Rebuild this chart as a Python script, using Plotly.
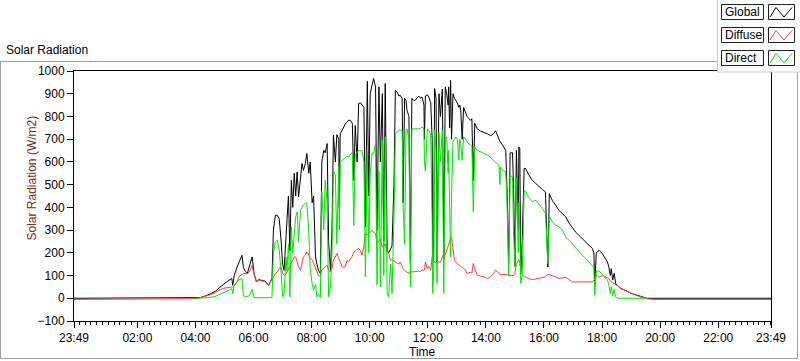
import plotly.graph_objects as go
from datetime import datetime, timedelta

# ---------------- data ----------------
times = ["23:49", "03:49", "03:55", "04:03", "04:10", "04:20", "04:30", "04:41", "04:51", "05:01",
         "05:10", "05:15", "05:17", "05:20", "05:26", "05:30", "05:36", "05:39", "05:43", "05:47",
         "05:51", "05:57", "06:01", "06:06", "06:10", "06:17", "06:24", "06:31", "06:38", "06:41",
         "06:45", "06:49", "06:53", "06:57", "07:00", "07:03", "07:07", "07:09", "07:12", "07:15",
         "07:18", "07:21", "07:24", "07:27", "07:30", "07:33", "07:37", "07:40", "07:43", "07:47",
         "07:50", "07:54", "07:57", "08:01", "08:04", "08:08", "08:11", "08:14", "08:18", "08:21",
         "08:25", "08:28", "08:32", "08:35", "08:39", "08:42", "08:45", "08:49", "08:52", "08:56",
         "08:57", "08:59", "09:03", "09:06", "09:10", "09:13", "09:16", "09:20", "09:24", "09:27",
         "09:30", "09:34", "09:37", "09:41", "09:44", "09:48", "09:51", "09:55", "09:58", "10:01",
         "10:05", "10:08", "10:12", "10:15", "10:19", "10:22", "10:26", "10:29", "10:32", "10:36",
         "10:39", "10:43", "10:46", "10:50", "10:53", "10:57", "11:00", "11:03", "11:07", "11:09",
         "11:12", "11:15", "11:17", "11:21", "11:24", "11:27", "11:31", "11:34", "11:38", "11:41",
         "11:45", "11:48", "11:52", "11:53", "11:55", "11:59", "12:02", "12:06", "12:09", "12:10",
         "12:12", "12:14", "12:17", "12:19", "12:23", "12:26", "12:30", "12:33", "12:36", "12:39",
         "12:42", "12:43", "12:45", "12:47", "12:49", "12:52", "12:55", "12:58", "13:01", "13:04",
         "13:06", "13:08", "13:11", "13:14", "13:18", "13:21", "13:25", "13:28", "13:31", "13:34",
         "13:37", "13:42", "13:49", "13:56", "14:03", "14:10", "14:16", "14:20", "14:24", "14:27",
         "14:29", "14:30", "14:34", "14:37", "14:41", "14:44", "14:47", "14:50", "14:55", "14:57",
         "15:00", "15:03", "15:07", "15:08", "15:10", "15:12", "15:15", "15:19", "15:22", "15:28",
         "15:36", "15:43", "15:50", "15:57", "16:03", "16:08", "16:11", "16:17", "16:24", "16:31",
         "16:38", "16:45", "16:52", "16:59", "17:06", "17:12", "17:19", "17:26", "17:33", "17:40",
         "17:43", "17:45", "17:48", "17:54", "18:01", "18:08", "18:11", "18:14", "18:17", "18:19",
         "18:22", "18:25", "18:28", "18:32", "18:39", "18:45", "18:52", "18:59", "19:06", "19:14",
         "19:20", "19:26", "19:32", "19:45", "23:49"]

global_wm2 = [0, 0, 0, 0, 3, 10, 18, 31, 50, 67,
              80, 87, 57, 100, 138, 160, 189, 135, 118, 109,
              140, 182, 109, 72, 82, 79, 75, 57, 87, 300,
              365, 365, 350, 250, 150, 123, 250, 330, 450, 210,
              519, 400, 550, 450, 556, 446, 520, 593, 563, 593,
              637, 550, 600, 420, 450, 182, 150, 123, 110, 600,
              651, 640, 681, 250, 123, 300, 717, 600, 720, 700,
              400, 725, 740, 755, 768, 775, 783, 783, 770, 519,
              760, 600, 857, 860, 850, 840, 314, 955, 450, 900,
              940, 967, 930, 299, 930, 600, 900, 250, 945, 211,
              200, 220, 230, 500, 915, 905, 890, 893, 880, 420,
              880, 870, 827, 800, 160, 880, 870, 871, 880, 890,
              880, 886, 850, 700, 890, 895, 886, 860, 700, 167,
              180, 923, 880, 158, 900, 800, 920, 172, 930, 900,
              850, 930, 750, 959, 700, 900, 880, 870, 860, 840,
              850, 827, 700, 840, 820, 800, 790, 783, 790, 519,
              770, 746, 735, 730, 724, 715, 725, 737, 720, 700,
              690, 688, 675, 666, 651, 450, 153, 640, 640, 500,
              140, 651, 300, 666, 659, 110, 250, 571, 571, 545,
              519, 505, 490, 478, 468, 138, 460, 431, 410, 387,
              372, 358, 330, 307, 290, 277, 262, 248, 232, 219,
              200, 60, 200, 211, 195, 167, 160, 138, 100, 130,
              80, 110, 65, 57, 42, 38, 29, 22, 18, 12,
              8, 5, 0, 0, 0]

diffuse_wm2 = [-5, -5, -3, -2, 3, 8, 15, 25, 38, 45,
               50, 50, 48, 55, 75, 95, 105, 109, 109, 108,
               115, 145, 105, 72, 80, 77, 73, 57, 85, 100,
               109, 115, 130, 135, 110, 100, 105, 115, 130, 140,
               160, 175, 182, 182, 160, 138, 123, 150, 182, 190,
               204, 190, 175, 170, 153, 130, 109, 100, 94, 125,
               131, 140, 145, 123, 115, 130, 170, 182, 197, 180,
               175, 160, 138, 135, 140, 167, 160, 170, 185, 204,
               210, 215, 219, 210, 190, 230, 285, 280, 285, 290,
               299, 290, 285, 240, 250, 260, 226, 230, 240, 200,
               200, 167, 170, 165, 160, 155, 150, 160, 138, 130,
               123, 120, 115, 109, 120, 115, 118, 118, 118, 120,
               118, 125, 122, 125, 160, 130, 140, 123, 182, 170,
               165, 160, 155, 155, 160, 158, 182, 197, 190, 210,
               235, 240, 250, 263, 270, 220, 167, 160, 150, 145,
               145, 140, 135, 131, 125, 109, 112, 115, 112, 153,
               130, 101, 98, 95, 87, 95, 109, 125, 115, 110,
               108, 105, 105, 105, 106, 105, 100, 100, 97, 100,
               110, 150, 165, 170, 160, 110, 105, 94, 94, 87,
               82, 85, 88, 92, 94, 106, 104, 97, 94, 87,
               90, 92, 82, 72, 72, 72, 70, 69, 69, 72,
               80, 85, 101, 92, 101, 95, 90, 85, 75, 72,
               68, 65, 60, 55, 43, 37, 29, 22, 18, 10,
               6, 2, -2, -5, -5]

direct_wm2 = [None, None, 0, 0, 0, 2, 4, 8, 18, 26,
              35, 43, 20, 55, 72, 82, 87, 10, 8, 8,
              10, 40, 3, 2, 2, 2, 2, 2, 3, 200,
              250, 255, 215, 110, 6, 20, 182, 120, 240, 6,
              314, 200, 300, 358, 380, 250, 387, 400, 410, 417,
              420, 299, 130, 65, 35, 60, 6, 20, 3, 470,
              300, 519, 420, 6, 50, 200, 563, 540, 240, 578,
              300, 600, 607, 615, 622, 625, 620, 635, 640, 320,
              630, 640, 651, 648, 651, 600, 94, 640, 200, 550,
              640, 637, 681, 60, 560, 50, 695, 100, 710, 21,
              6, 150, 21, 350, 725, 730, 739, 739, 740, 402,
              240, 740, 745, 700, 50, 745, 746, 745, 746, 745,
              748, 754, 745, 600, 560, 745, 740, 720, 343, 21,
              100, 740, 650, 65, 730, 600, 740, 21, 700, 710,
              550, 651, 400, 182, 450, 690, 700, 710, 700, 607,
              700, 680, 607, 710, 700, 688, 680, 675, 670, 380,
              665, 651, 645, 637, 630, 619, 605, 598, 593, 585,
              500, 578, 563, 560, 556, 400, 100, 540, 534, 300,
              140, 530, 200, 420, 300, 65, 100, 475, 470, 445,
              425, 431, 415, 395, 373, 153, 360, 336, 322, 315,
              300, 270, 255, 240, 220, 204, 190, 175, 158, 140,
              135, 15, 120, 120, 105, 90, 80, 60, 20, 50,
              10, 40, 5, 0, 0, 0, 0, 0, 0, 0,
              0, 0, 0, None, None]

series_names = ["Global", "Diffuse", "Direct"]
series_colors = ["#000000", "#ff3b3b", "#00e600"]
series_values = [global_wm2, diffuse_wm2, direct_wm2]

x_tick_labels = ["23:49", "02:00", "04:00", "06:00", "08:00", "10:00", "12:00",
                 "14:00", "16:00", "18:00", "20:00", "22:00", "23:49"]
y_tick_values = list(range(-100, 1001, 100))

# ---------------- time parsing (day wraps after the first 23:49) ----------------
start_day = datetime(2024, 1, 1)


def parse_times(labels):
    out, day, prev = [], start_day, None
    for s in labels:
        h, m = map(int, s.split(":"))
        t = day + timedelta(hours=h, minutes=m)
        if prev is not None and t < prev:
            day += timedelta(days=1)
            t += timedelta(days=1)
        out.append(t)
        prev = t
    return out


tx = parse_times(times)
tick_dt = parse_times(x_tick_labels)

# ---------------- figure ----------------
W, H = 800, 361
PL, PR, PT, PB = 74, 771, 71, 321
FONT = "Liberation Sans, Arial, sans-serif"


def fx(p):
    return (p - PL) / (PR - PL)


def fy(p):
    return (PB - p) / (PB - PT)


fig = go.Figure()
for name, color, vals in zip(series_names, series_colors, series_values):
    fig.add_trace(go.Scatter(x=tx, y=vals, mode="lines", name=name,
                             line=dict(color=color, width=1), connectgaps=False,
                             hoverinfo="skip", showlegend=False))

fig.update_layout(
    width=W, height=H,
    margin=dict(l=PL, r=W - PR, t=PT, b=H - PB, pad=0),
    paper_bgcolor="white", plot_bgcolor="white",
    font=dict(family=FONT, size=12, color="#000000"),
    showlegend=False,
)

fig.update_xaxes(
    range=[tick_dt[0], tick_dt[-1]],
    tickmode="array", tickvals=tick_dt, ticktext=x_tick_labels,
    ticks="outside", ticklen=6, tickcolor="#000000", tickwidth=1,
    showline=True, linecolor="#000000", linewidth=1, mirror=True,
    showgrid=False, zeroline=False,
    tickfont=dict(family=FONT, size=12, color="#000000"),
    minor=dict(ticks="outside", ticklen=3, tickcolor="#000000", tickwidth=1,
               tickmode="linear", tick0=datetime(2024, 1, 2, 0, 0), dtick=12 * 60 * 1000,
               showgrid=False),
)
fig.update_yaxes(
    range=[-100, 1000],
    tickmode="array", tickvals=y_tick_values,
    ticks="outside", ticklen=6, tickcolor="#000000", tickwidth=1,
    showline=True, linecolor="#000000", linewidth=1, mirror=True,
    showgrid=False, zeroline=False,
    tickfont=dict(family=FONT, size=12, color="#000000"),
)

shapes, annos = [], []
FRAME = "#a0a0a0"
# outer frame of the chart
shapes.append(dict(type="line", xref="paper", yref="paper", x0=fx(0), x1=fx(717), y0=fy(61.5), y1=fy(61.5),
                   line=dict(color=FRAME, width=1), layer="above"))
shapes.append(dict(type="line", xref="paper", yref="paper", x0=fx(0.5), x1=fx(0.5), y0=fy(61.5), y1=fy(358.5),
                   line=dict(color=FRAME, width=1), layer="above"))
shapes.append(dict(type="line", xref="paper", yref="paper", x0=fx(0.5), x1=fx(797.5), y0=fy(358.5), y1=fy(358.5),
                   line=dict(color=FRAME, width=1), layer="above"))
shapes.append(dict(type="line", xref="paper", yref="paper", x0=fx(797.5), x1=fx(797.5), y0=fy(72), y1=fy(358.5),
                   line=dict(color=FRAME, width=1), layer="above"))
# legend panel
shapes.append(dict(type="rect", xref="paper", yref="paper", x0=fx(717), x1=fx(800), y0=fy(0), y1=fy(72),
                   fillcolor="white", line=dict(width=0), layer="above"))
shapes.append(dict(type="line", xref="paper", yref="paper", x0=fx(717.5), x1=fx(717.5), y0=fy(0), y1=fy(72),
                   line=dict(color="#c8c8c8", width=1), layer="above"))
shapes.append(dict(type="line", xref="paper", yref="paper", x0=fx(717.5), x1=fx(800), y0=fy(72), y1=fy(72),
                   line=dict(color="#c8c8c8", width=1), layer="above"))
for i, (name, color) in enumerate(zip(series_names, series_colors)):
    top = 4.5 + 23 * i
    shapes.append(dict(type="rect", xref="paper", yref="paper", x0=fx(721.5), x1=fx(763.5), y0=fy(top), y1=fy(top + 15),
                       fillcolor="white", line=dict(color="#202020", width=1), layer="above"))
    shapes.append(dict(type="rect", xref="paper", yref="paper", x0=fx(768.5), x1=fx(794.5), y0=fy(top), y1=fy(top + 15),
                       fillcolor="white", line=dict(color="#202020", width=1), layer="above"))
    pts = [(770, top + 12.5), (776, top + 3), (784, top + 12.5), (792, top + 3)]
    path = "M " + " L ".join(f"{fx(a):.5f},{fy(b):.5f}" for a, b in pts)
    shapes.append(dict(type="path", xref="paper", yref="paper", path=path,
                       line=dict(color=color, width=1), layer="above"))
    annos.append(dict(xref="paper", yref="paper", x=fx(723), y=fy(top + 7.5), text=name,
                      showarrow=False, xanchor="left", yanchor="middle",
                      font=dict(family=FONT, size=12, color="#000000")))

annos.append(dict(xref="paper", yref="paper", x=fx(4), y=fy(50), text="Solar Radiation",
                  showarrow=False, xanchor="left", yanchor="middle",
                  font=dict(family=FONT, size=12, color="#000000")))
annos.append(dict(xref="paper", yref="paper", x=fx(31.5), y=fy(178), text="Solar Radiation (W/m2)",
                  showarrow=False, xanchor="center", yanchor="middle", textangle=-90,
                  font=dict(family=FONT, size=12, color="#6b3020")))
annos.append(dict(xref="paper", yref="paper", x=fx(422), y=fy(352), text="Time",
                  showarrow=False, xanchor="center", yanchor="middle",
                  font=dict(family=FONT, size=12, color="#000000")))

fig.update_layout(shapes=shapes, annotations=annos)
fig.write_html("out.html", config={"displayModeBar": False},
               post_script="document.body.style.margin='0';document.body.style.overflow='hidden';")
